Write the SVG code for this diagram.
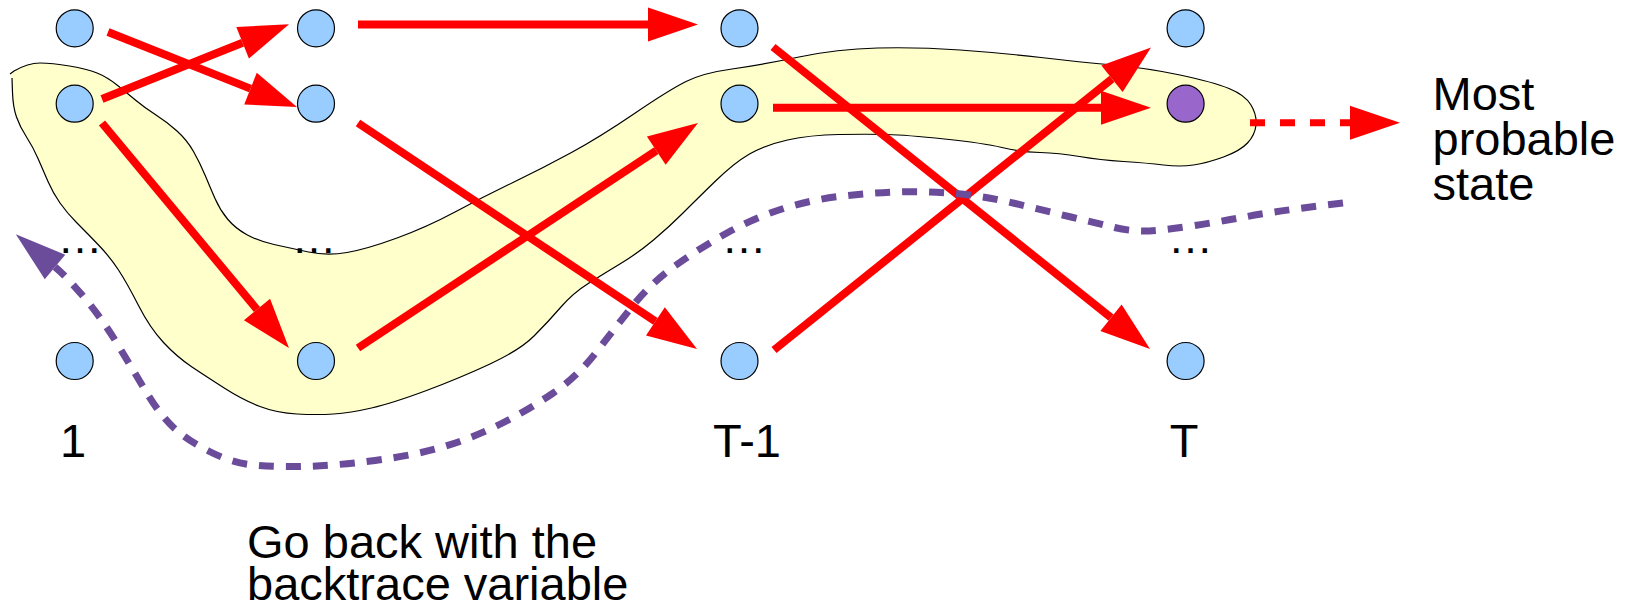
<svg xmlns="http://www.w3.org/2000/svg" width="1639" height="607" viewBox="0 0 1639 607">
<style>
.node{fill:#99ccff;stroke:#000;stroke-width:1.2}
.best{fill:#9966cc;stroke:#000;stroke-width:1.2}
.red{fill:none;stroke:#ff0000;stroke-width:8;marker-end:url(#ah)}
.reddash{fill:none;stroke:#ff0000;stroke-width:7;stroke-dasharray:15 15;marker-end:url(#ah)}
.back{fill:none;stroke:#6b4c9a;stroke-width:7;stroke-dasharray:15 12;marker-end:url(#ahp)}
.lbl{font-family:"Liberation Sans",Arial,sans-serif;font-size:47px;fill:#000}
.dots{font-family:"Liberation Sans",Arial,sans-serif;font-size:45px;fill:#000;text-anchor:middle}
</style>
<defs>
<marker id="ah" markerUnits="userSpaceOnUse" markerWidth="52" markerHeight="36" refX="0" refY="17" orient="auto" overflow="visible">
<path d="M0,0 L50,17 L0,34 z" fill="#ff0000"/>
</marker>
<marker id="ahp" markerUnits="userSpaceOnUse" markerWidth="52" markerHeight="36" refX="0" refY="16" orient="auto" overflow="visible">
<path d="M0,0 L51,16 L0,32 z" fill="#6b4c9a"/>
</marker>
</defs>
<rect width="1639" height="607" fill="#fff"/>
<g id="best-path-region">
<path d="M10,74 L14,71 Q28,63 40,63 Q52,63 69.5,66 Q87,69 97,73 Q107,77 117,85 Q127,93 136,100.5 Q145,108 156,115 Q167,122 177,131 Q187,140 193.5,151.5 Q200,163 205,175 Q210,187 215,198.5 Q220,210 227.5,219 Q235,228 246.5,234.5 Q258,241 274,244.5 Q290,248 308.5,252 Q327,256 347,252.5 Q367,249 397,238 Q427,227 455,212 Q483,197 513,182.5 Q543,168 571.5,152.5 Q600,137 634.5,113.5 Q669,90 686,81.5 Q703,73 732,69 Q761,65 799,57 Q837,49 877.5,48 Q918,47 960,50 Q1002,53 1041,57.5 Q1080,62 1113.5,65 Q1147,68 1180,75 Q1213,82 1229,88.5 Q1245,95 1251,105 Q1257,115 1256,125 Q1255,135 1247.5,143 Q1240,151 1223.5,157 Q1207,163 1193.5,165 Q1180,167 1163.5,165 Q1147,163 1123.5,161.5 Q1100,160 1079.5,156.5 Q1059,153 1040,152.5 Q1021,152 1002,147.5 Q983,143 944.5,139 Q906,135 887,134.5 Q868,134 839,134.5 Q810,135 787.5,140 Q765,145 749.5,154 Q734,163 715,181.5 Q696,200 682.5,213.5 Q669,227 653.5,240 Q638,253 621.5,263 Q605,273 589,283 Q573,293 560.5,307.5 Q548,322 534,336 Q520,350 490,364 Q460,378 426.5,390.5 Q393,403 371.5,408 Q350,413 333.5,414 Q317,415 297,414 Q277,413 260,406.5 Q243,400 225,388.5 Q207,377 192,367 Q177,357 163.5,342.5 Q150,328 138.5,305.5 Q127,283 118.5,270 Q110,257 98.5,245 Q87,233 77,223 Q67,213 60,203 Q53,193 48,181.5 Q43,170 38,158.5 Q33,147 26.5,137 Q20,127 16.5,117 Q13,107 12.5,92.5 L12,78" fill="#ffffcc" stroke="#000" stroke-width="1.2"/>
</g>
<g id="connectors">
<path class="red" d="M108,32 L250.5,88.6"/>
<path class="red" d="M102,99 L242.6,42.8"/>
<path class="red" d="M102,123 L257,309.5"/>
<path class="red" d="M358,24.5 L648,24.5"/>
<path class="red" d="M358,123 L655.4,321.3"/>
<path class="red" d="M358,348 L656.3,150.6"/>
<path class="red" d="M773,47 L1111,317.7"/>
<path class="red" d="M773,107.7 L1101,107.7"/>
<path class="red" d="M774,350 L1112,78.8"/>
<path class="reddash" d="M1250,122.7 L1350,122.7"/>
<path class="back" d="M1343,203 Q1276,211 1247,216.5 Q1218,222 1188,226.5 Q1158,231 1143.5,231 Q1129,231 1114.5,227.5 Q1100,224 1071,217 Q1042,210 1013,203 Q984,196 955,193.5 Q926,191 897,192 Q868,193 839,196.5 Q810,200 782,209 Q754,218 727,233 Q700,248 675.5,265.5 Q651,283 633,305.5 Q615,328 596,352.5 Q577,377 552.5,393.5 Q528,410 501.5,423.5 Q475,437 446,446 Q417,455 375,460.5 Q333,466 300,466.5 Q267,467 248.5,464.5 Q230,462 208.5,451 Q187,440 173.5,427.5 Q160,415 146.5,392.5 Q133,370 118,345 Q103,320 85,298.5 Q67,277 55,267"/>
</g>
<g id="n1a"><circle class="node" cx="74.7" cy="28.3" r="18.5"/></g>
<g id="n1b"><circle class="node" cx="74.7" cy="103.7" r="18.5"/></g>
<g id="n1dots"><text class="dots" x="80" y="253">…</text></g>
<g id="n1c"><circle class="node" cx="74.7" cy="361" r="18.5"/></g>
<g id="n2a"><circle class="node" cx="316" cy="28.3" r="18.5"/></g>
<g id="n2b"><circle class="node" cx="316" cy="103.7" r="18.5"/></g>
<g id="n2dots"><text class="dots" x="314" y="253">…</text></g>
<g id="n2c"><circle class="node" cx="316" cy="361" r="18.5"/></g>
<g id="n3a"><circle class="node" cx="739.5" cy="28.3" r="18.5"/></g>
<g id="n3b"><circle class="node" cx="739.5" cy="103.7" r="18.5"/></g>
<g id="n3dots"><text class="dots" x="744" y="253">…</text></g>
<g id="n3c"><circle class="node" cx="739.5" cy="361" r="18.5"/></g>
<g id="n4a"><circle class="node" cx="1185.6" cy="28.3" r="18.5"/></g>
<g id="n4b"><circle class="best" cx="1185.6" cy="103.7" r="18.5"/></g>
<g id="n4dots"><text class="dots" x="1190.5" y="253">…</text></g>
<g id="n4c"><circle class="node" cx="1185.6" cy="361" r="18.5"/></g>
<g id="labels">
<text class="lbl" x="73" y="457" text-anchor="middle">1</text>
<text class="lbl" x="747" y="457" text-anchor="middle">T-1</text>
<text class="lbl" x="1184" y="457" text-anchor="middle">T</text>
<text class="lbl" x="1432.5" y="110">Most</text>
<text class="lbl" x="1432.5" y="155">probable</text>
<text class="lbl" x="1432.5" y="200">state</text>
<text class="lbl" x="247" y="558">Go back with the</text>
<text class="lbl" x="247" y="600">backtrace variable</text>
</g>
</svg>
